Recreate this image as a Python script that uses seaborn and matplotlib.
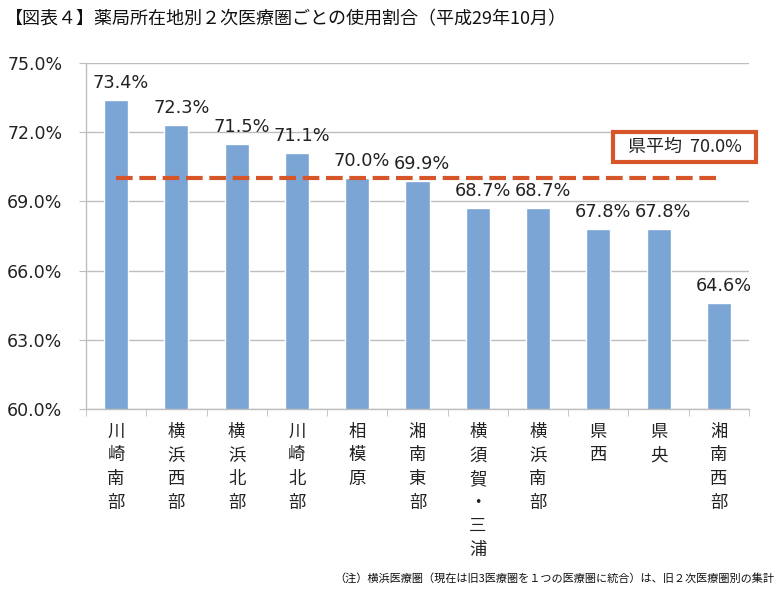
import matplotlib
matplotlib.use('Agg')
import matplotlib.pyplot as plt
import seaborn as sns
import numpy as np
import pandas as pd

# ---------------- data ----------------
areas = ['川崎南部', '横浜西部', '横浜北部', '川崎北部', '相模原', '湘南東部',
         '横須賀・三浦', '横浜南部', '県西', '県央', '湘南西部']
rates = [73.4, 72.3, 71.5, 71.1, 70.0, 69.9, 68.7, 68.7, 67.8, 67.8, 64.6]
pref_avg = 70.0
yticks = [60, 63, 66, 69, 72, 75]

df = pd.DataFrame({'area': areas, 'rate': rates})

sns.set_style('white')
plt.rcParams['font.family'] = ['Noto Sans CJK JP', 'DejaVu Sans']

fig = plt.figure(figsize=(7.78, 5.9), dpi=100)
ax = fig.add_axes([0.1105, 0.3068, 0.8522, 0.5864])

sns.barplot(data=df, x='area', y='rate', color='#7BA5D5', width=0.4,
            saturation=1, ax=ax, zorder=2)

# --- prefecture average line ---
ax.plot([0, len(areas) - 1], [pref_avg, pref_avg], color='#D6562A', lw=3,
        dashes=(4, 1.6), zorder=3)

# --- value labels ---
for i, v in enumerate(rates):
    ax.text(i + 0.08, v + 0.35, f'{v:.1f}%', ha='center', va='bottom',
            fontsize=12.8, color='#222222', family=['DejaVu Sans'])

ax.set_ylim(60, 75)
ax.set_xlim(-0.5, len(areas) - 0.5)
ax.set_yticks(yticks)
ax.set_yticklabels([f'{t:.1f}%' for t in yticks], fontsize=12.5,
                   family=['DejaVu Sans'], color='#222222')
ax.yaxis.grid(True, color='#BEBEBE', lw=1, zorder=0)
ax.tick_params(axis='y', length=5, color='#BEBEBE', pad=12, left=True)

ax.set_xticks(range(len(areas)))
ax.set_xticklabels(['\n'.join(a) for a in areas], fontsize=12.5,
                   va='top', linespacing=1.4, color='#222222')
ax.set_xticks(np.arange(-0.5, len(areas)), minor=True)
ax.tick_params(axis='x', which='major', length=0, pad=10)
ax.tick_params(axis='x', which='minor', length=5, color='#BEBEBE', bottom=True)
ax.set_xlabel('')
ax.set_ylabel('')

for s in ['top', 'right']:
    ax.spines[s].set_visible(False)
for s in ['left', 'bottom']:
    ax.spines[s].set_color('#BEBEBE')
    ax.spines[s].set_linewidth(1)

# --- average box ---
ax.text(0.903, 0.757, '  県平均  70.0%  ', transform=ax.transAxes, ha='center',
        va='center', fontsize=13, color='#222222', clip_on=False,
        bbox=dict(boxstyle='square,pad=0.35', fc='white', ec='#D6562A', lw=3))

fig.text(0.006, 0.968, '【図表４】薬局所在地別２次医療圏ごとの使用割合（平成29年10月）',
         fontsize=13, ha='left', va='center', color='#111111')
fig.text(0.995, 0.02, '（注）横浜医療圏（現在は旧3医療圏を１つの医療圏に統合）は、旧２次医療圏別の集計',
         fontsize=8, ha='right', va='center', color='#111111')

fig.savefig('out.png', dpi=100)
